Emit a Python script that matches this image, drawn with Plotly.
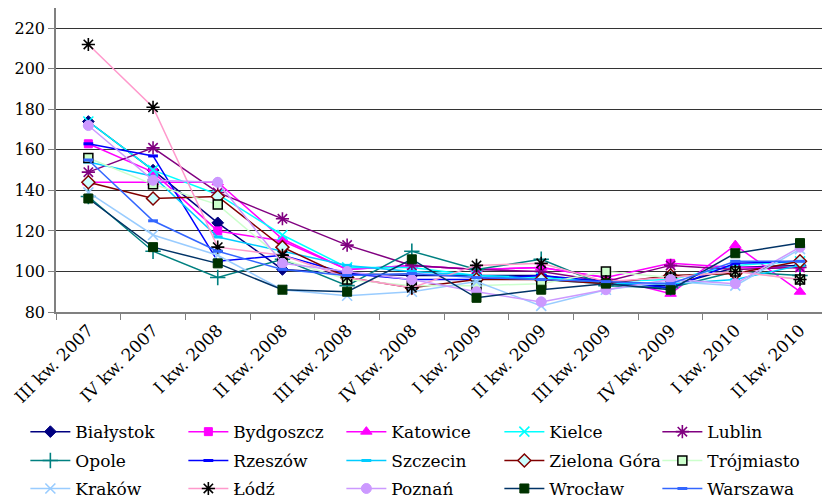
import plotly.graph_objects as go

# Quarterly index values per city
quarters = ["III kw. 2007", "IV kw. 2007", "I kw. 2008", "II kw. 2008",
            "III kw. 2008", "IV kw. 2008", "I kw. 2009", "II kw. 2009",
            "III kw. 2009", "IV kw. 2009", "I kw. 2010", "II kw. 2010"]

bialystok = [174, 150, 124, 101, 99, 98, 98, 98, 94, 93, 102, 103]
bydgoszcz = [163, 149, 120, 115, 101, 103, 101, 102, 97, 104, 102, 102]
katowice = [144, 144, 144, 116, 101, 103, 101, 102, 97, 89, 113, 90]
kielce = [174, 150, 138, 118, 102, 102, 98, 97, 95, 96, 103, 105]
lublin = [149, 161, 139, 126, 113, 103, 101, 100, 95, 103, 101, 102]
opole = [137, 110, 97, 106, 93, 110, 101, 106, 93, 92, 100, 98]
rzeszow = [163, 157, 105, 108, 99, 96, 96, 98, 95, 92, 104, 105]
szczecin = [154, 147, 117, 110, 103, 100, 98, 96, 94, 94, 96, 103]
zielona_gora = [144, 136, 137, 112, 97, 92, 96, 96, 94, 98, 99, 105]
trojmiasto = [156, 143, 133, 106, 96, 93, 93, 94, 100, 97, 100, 96]
krakow = [139, 118, 108, 91, 88, 90, 95, 83, 91, 95, 93, 111]
lodz = [212, 181, 112, 108, 97, 92, 103, 104, 95, 97, 100, 96]
poznan = [172, 145, 144, 104, 100, 96, 90, 85, 91, 96, 94, 112]
wroclaw = [136, 112, 104, 91, 90, 106, 87, 91, 94, 91, 109, 114]
warszawa = [155, 125, 110, 101, 98, 99, 97, 96, 95, 94, 105, 105]

y_ticks = [80, 100, 120, 140, 160, 180, 200, 220]

FONT = "DejaVu Serif"

# name, values, line colour, marker symbol, marker fill, marker outline, size, outline width
series = [
    ("Białystok", bialystok, "#000080", "diamond", "#000080", "#000080", 9, 1),
    ("Bydgoszcz", bydgoszcz, "#FF00FF", "square", "#FF00FF", "#FF00FF", 8, 1),
    ("Katowice", katowice, "#FF00FF", "triangle-up", "#FF00FF", "#FF00FF", 10, 1),
    ("Kielce", kielce, "#00FFFF", "x-thin-open", "#00FFFF", "#00FFFF", 10, 1.6),
    ("Lublin", lublin, "#800080", "asterisk-open", "#800080", "#800080", 11, 1.6),
    ("Opole", opole, "#008080", "cross-thin-open", "#008080", "#008080", 11, 1.6),
    ("Rzeszów", rzeszow, "#0000FF", "line-ew-open", "#0000FF", "#0000FF", 7, 3),
    ("Szczecin", szczecin, "#00CCFF", "line-ew-open", "#00CCFF", "#00CCFF", 7, 3),
    ("Zielona Góra", zielona_gora, "#800000", "diamond", "#CCFFFF", "#800000", 10, 1.5),
    ("Trójmiasto", trojmiasto, "#CCFFCC", "square", "#CCFFCC", "#000000", 9, 1.5),
    ("Kraków", krakow, "#99CCFF", "x-thin-open", "#99CCFF", "#99CCFF", 10, 1.6),
    ("Łódź", lodz, "#FF99CC", "asterisk-open", "#000000", "#000000", 11, 1.6),
    ("Poznań", poznan, "#CC99FF", "circle", "#CC99FF", "#CC99FF", 10, 1),
    ("Wrocław", wroclaw, "#003366", "square", "#003300", "#003300", 9, 1),
    ("Warszawa", warszawa, "#3366FF", "line-ew-open", "#3366FF", "#3366FF", 7, 3),
]

# one legend per row of five entries
legend_ids = ["legend", "legend2", "legend3"]

fig = go.Figure()
for i, (name, vals, lc, sym, fill, outline, size, lw) in enumerate(series):
    fig.add_trace(go.Scatter(
        x=quarters, y=vals, name=name, mode="lines+markers",
        line=dict(color=lc, width=1.5),
        marker=dict(symbol=sym, color=fill, size=size,
                    line=dict(color=outline, width=lw)),
        legend=legend_ids[i // 5],
    ))

legend_style = dict(
    orientation="h", x=-0.04, xanchor="left", yanchor="middle",
    entrywidth=103, entrywidthmode="pixels",
    font=dict(family=FONT, size=17, color="black"),
    traceorder="normal", itemwidth=40, bgcolor="rgba(0,0,0,0)",
)

fig.update_layout(
    width=822, height=500,
    margin=dict(l=56, r=0, t=8, b=188, autoexpand=False),
    paper_bgcolor="white", plot_bgcolor="white",
    font=dict(family=FONT, size=16, color="black"),
    showlegend=True,
    legend=dict(legend_style, y=-0.395),
    legend2=dict(legend_style, y=-0.49),
    legend3=dict(legend_style, y=-0.582),
)

fig.update_xaxes(
    type="category", range=[-0.5, 11.34],
    tickson="boundaries", ticks="outside", ticklen=6, tickcolor="#808080",
    showline=True, linecolor="#808080", linewidth=1.5,
    showgrid=False, tickangle=-45,
    tickfont=dict(family=FONT, size=17, color="black"),
)

fig.update_yaxes(
    range=[80, 230], tickvals=y_ticks,
    ticks="outside", ticklen=6, tickcolor="#808080",
    showline=True, linecolor="#808080", linewidth=1.5,
    showgrid=True, gridcolor="#333333", gridwidth=1,
    zeroline=False,
    tickfont=dict(family=FONT, size=16, color="black"),
)

fig.write_html("out.html")
